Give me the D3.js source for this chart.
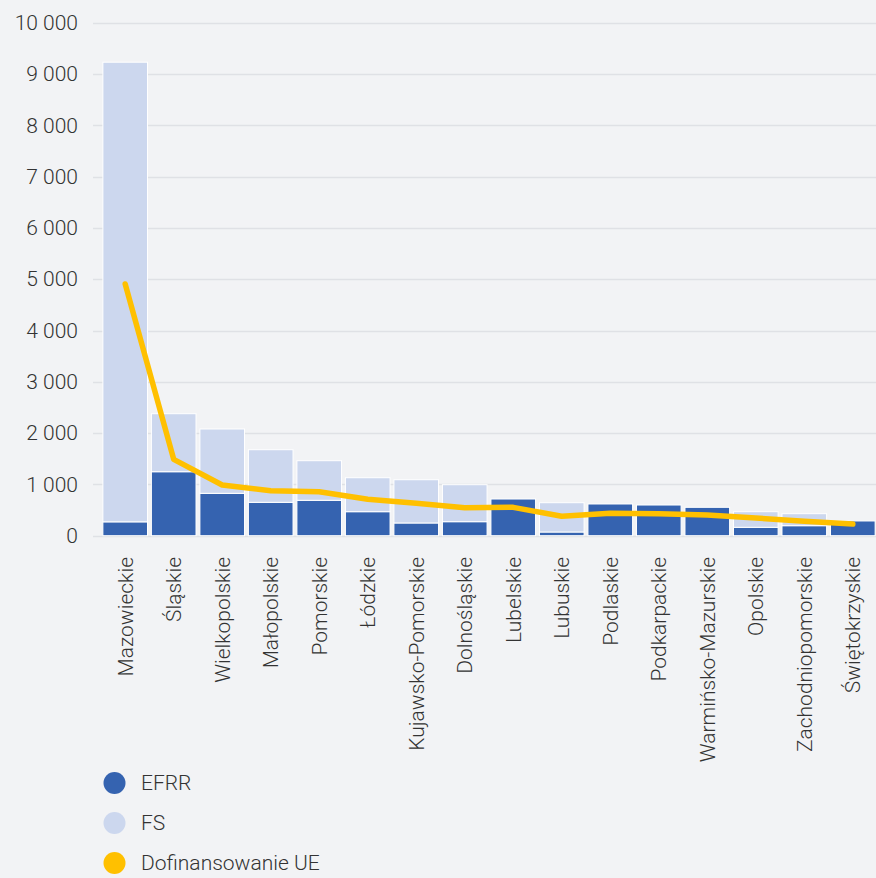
<!DOCTYPE html>
<html>
<head>
<meta charset="utf-8">
<script src="https://cdn.jsdelivr.net/npm/d3@7/dist/d3.min.js"></script>
<style>
  html, body { margin: 0; padding: 0; background: #f2f3f5; }
  svg { display: block; font-family: Roboto, "Noto Sans", sans-serif; }
</style>
</head>
<body>
<svg id="chart" width="876" height="878"></svg>
<script>
const categories = ["Mazowieckie", "Śląskie", "Wielkopolskie", "Małopolskie", "Pomorskie", "Łódzkie",
  "Kujawsko-Pomorskie", "Dolnośląskie", "Lubelskie", "Lubuskie", "Podlaskie", "Podkarpackie",
  "Warmińsko-Mazurskie", "Opolskie", "Zachodniopomorskie", "Świętokrzyskie"];
const efrr = [270, 1247, 826, 651, 690, 468, 248, 273, 715, 72, 618, 598, 553, 164, 195, 287];
const fs   = [8960, 1131, 1254, 1025, 772, 662, 843, 721, 0, 571, 0, 0, 0, 304, 234, 0];
const dofinansowanie = [4906, 1489, 988, 877, 858, 709, 631, 546, 553, 378, 436, 429, 403, 345, 281, 228];
const yTicks = [0, 1000, 2000, 3000, 4000, 5000, 6000, 7000, 8000, 9000, 10000];
const seriesNames = ["EFRR", "FS", "Dofinansowanie UE"];
const colors = ["#3563b0", "#ccd7ee", "#ffc000"];

const svg = d3.select("#chart");
const gridLeft = 93, gridRight = 876;
const fontSize = 21;

const x = d3.scaleBand().domain(categories).range([99, 879]).paddingInner(0.08).paddingOuter(0.08);
const y = d3.scaleLinear().domain([0, 10000]).range([535.7, 22.7]);

const fmt = v => d3.format(",")(v).replace(/,/g, "\u00a0");

// gridlines
svg.append("g").selectAll("line").data(yTicks).join("line")
  .attr("x1", gridLeft).attr("x2", gridRight)
  .attr("y1", d => Math.round(y(d)) + 0.5).attr("y2", d => Math.round(y(d)) + 0.5)
  .attr("stroke", "#dfe1e5").attr("stroke-width", 1.3);

// y axis labels
const yAxis = d3.axisLeft(y).tickValues(yTicks).tickFormat(fmt).tickSize(0).tickPadding(0);
const yg = svg.append("g").attr("transform", `translate(78,0)`).call(yAxis);
yg.select(".domain").remove();
yg.selectAll("text").attr("font-size", fontSize).attr("font-weight", 300).attr("fill", "#333").attr("font-family", "Roboto");

// stacked bars
const rows = categories.map((c, i) => ({ cat: c, EFRR: efrr[i], FS: fs[i] }));
const stack = d3.stack().keys(["EFRR", "FS"])(rows);
svg.append("g").selectAll("g").data(stack).join("g")
  .attr("fill", (d, i) => colors[i])
  .selectAll("rect").data(d => d.filter(p => p[1] - p[0] > 0)).join("rect")
  .attr("x", d => x(d.data.cat))
  .attr("width", x.bandwidth())
  .attr("y", d => y(d[1]))
  .attr("height", d => y(d[0]) - y(d[1]))
  .attr("stroke", "#ffffff").attr("stroke-width", 1);

// line
const line = d3.line()
  .x((d, i) => x(categories[i]) + x.bandwidth() / 2)
  .y(d => y(d));
svg.append("path").datum(dofinansowanie)
  .attr("d", line)
  .attr("fill", "none").attr("stroke", colors[2]).attr("stroke-width", 5.5)
  .attr("stroke-linecap", "round").attr("stroke-linejoin", "round");

// x axis labels
const xAxis = d3.axisBottom(x).tickSize(0).tickPadding(0);
const xg = svg.append("g").attr("transform", `translate(0,557)`).call(xAxis);
xg.select(".domain").remove();
xg.selectAll("text")
  .attr("font-size", fontSize).attr("font-weight", 300).attr("fill", "#333").attr("font-family", "Roboto")
  .attr("text-anchor", "end")
  .attr("transform", "rotate(-90)")
  .attr("x", 0).attr("y", 0).attr("dy", "0.35em");

// legend
const lg = svg.append("g");
seriesNames.forEach((name, i) => {
  const cy = 783 + i * 40;
  lg.append("circle").attr("cx", 114.5).attr("cy", cy).attr("r", 11).attr("fill", colors[i]);
  lg.append("text").attr("x", 141).attr("y", cy).attr("dy", "0.35em")
    .attr("font-size", fontSize).attr("font-weight", 300).attr("fill", "#333").attr("font-family", "Roboto")
    .text(name);
});
</script>
</body>
</html>
